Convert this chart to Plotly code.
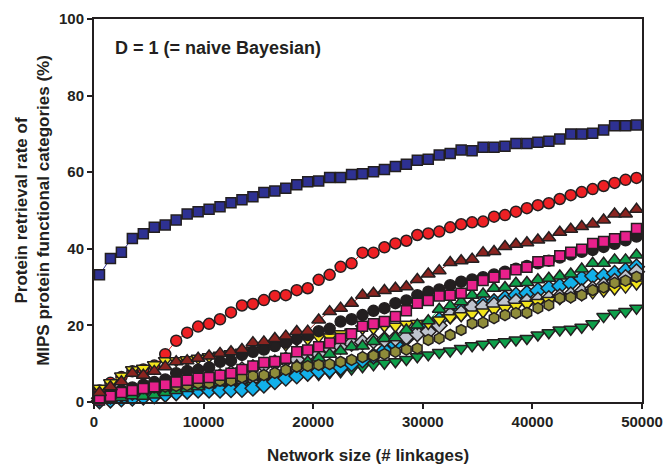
import plotly.graph_objects as go

# Network size (# linkages) sampled every 1000 linkages
network_size = list(range(500, 50000, 1000))

blue_sq = [33.2, 37.5, 39.1, 42.7, 43.9, 45.6, 46.2, 47.5, 49.1, 49.7,
           50.3, 51.0, 52.0, 52.8, 53.6, 54.7, 55.1, 55.8, 56.7, 57.5,
           57.7, 58.6, 58.6, 59.4, 59.6, 60.1, 60.7, 61.5, 62.1, 63.1,
           63.4, 64.5, 64.9, 65.8, 65.6, 66.5, 66.5, 66.8, 67.5, 67.5,
           67.8, 68.1, 68.7, 70.0, 70.0, 70.2, 71.0, 72.1, 72.1, 72.3]
red_ci = [3.0, 5.0, 6.5, 8.0, 8.5, 9.5, 12.5, 16.0, 18.1, 19.7,
          20.4, 21.6, 23.4, 25.2, 25.6, 26.6, 27.7, 27.9, 29.2, 29.7,
          31.9, 33.2, 35.3, 36.2, 39.0, 39.0, 40.4, 41.4, 42.1, 43.6,
          44.0, 44.5, 45.6, 46.4, 46.9, 47.1, 48.4, 48.8, 49.7, 50.6,
          51.4, 51.9, 53.0, 54.0, 54.8, 55.6, 56.4, 57.2, 58.0, 58.5]
brown_tri = [2.5, 4.0, 5.3, 7.5, 7.0, 8.0, 9.2, 10.5, 10.8, 11.4,
             12.0, 12.7, 13.1, 13.7, 15.5, 15.7, 16.6, 17.2, 18.4, 18.5,
             21.4, 23.6, 24.5, 25.8, 27.9, 28.4, 29.1, 29.7, 30.1, 32.0,
             33.4, 34.3, 36.4, 36.9, 37.3, 39.0, 39.3, 40.6, 41.2, 41.6,
             42.3, 42.9, 44.3, 45.1, 45.8, 46.5, 47.5, 49.1, 49.1, 50.3]
black_ci = [1.0, 2.0, 3.0, 3.8, 4.5, 5.2, 5.9, 7.5, 8.1, 8.4,
            9.0, 10.5, 10.8, 12.3, 13.1, 13.7, 14.6, 15.5, 16.5, 17.5,
            18.5, 19.1, 21.0, 21.6, 22.7, 23.8, 24.5, 25.8, 26.5, 27.9,
            28.8, 29.4, 30.5, 31.4, 32.0, 32.6, 33.3, 34.0, 34.8, 35.5,
            36.2, 36.9, 37.7, 38.5, 39.2, 39.7, 40.5, 41.3, 42.2, 43.2]
magenta_sq = [0.5, 1.5, 2.5, 3.0, 3.5, 4.0, 4.5, 5.2, 5.7, 6.2,
              6.4, 7.0, 7.5, 8.5, 9.4, 10.3, 10.6, 11.4, 13.1, 13.6,
              14.4, 15.4, 16.6, 17.8, 19.8, 20.4, 21.0, 22.3, 23.8, 25.8,
              26.5, 27.7, 27.9, 28.4, 30.5, 31.7, 32.6, 33.4, 34.5, 35.2,
              36.6, 36.9, 38.2, 39.1, 39.9, 41.4, 41.9, 42.6, 43.2, 45.3]
green_up = [0.5, 0.8, 1.2, 1.6, 1.5, 1.8, 2.5, 3.0, 3.5, 4.0,
            4.5, 5.0, 5.5, 6.0, 6.5, 7.0, 7.8, 8.5, 9.5, 10.5,
            11.5, 12.5, 13.3, 14.4, 14.6, 15.8, 16.6, 16.8, 18.8, 20.1,
            21.2, 24.2, 25.1, 26.2, 27.9, 28.2, 29.7, 29.9, 31.0, 31.2,
            31.9, 32.3, 32.9, 33.4, 34.7, 36.2, 36.2, 37.1, 37.1, 38.4]
cyan_di = [0.3, 0.5, 0.8, 1.0, 1.3, 1.6, 2.0, 2.4, 2.8, 3.1,
           3.1, 3.1, 3.2, 3.3, 3.6, 4.4, 5.3, 6.2, 6.8, 7.5,
           8.0, 8.4, 9.0, 10.0, 11.0, 12.0, 13.5, 15.0, 16.6, 18.5,
           19.8, 21.4, 22.5, 24.0, 25.0, 25.7, 26.2, 27.1, 27.9, 28.4,
           29.1, 29.7, 30.3, 31.0, 32.3, 32.9, 32.9, 33.6, 34.3, 35.3]
grey_di = [1.0, 1.5, 2.0, 2.5, 3.0, 3.5, 4.0, 4.5, 5.0, 5.5,
           6.0, 6.6, 7.5, 8.4, 9.0, 9.6, 10.2, 11.0, 11.1, 12.3,
           12.5, 14.0, 14.5, 15.3, 15.6, 16.0, 16.3, 16.6, 17.0, 17.8,
           18.4, 20.0, 22.7, 23.2, 24.8, 24.8, 25.3, 25.8, 26.2, 26.2,
           26.6, 27.0, 27.5, 28.0, 28.8, 29.5, 30.5, 31.5, 32.5, 34.0]
yellow_dn = [3.6, 5.0, 6.8, 8.4, 8.8, 9.7, 10.8, 10.8, 11.0, 11.4,
             11.8, 12.2, 12.6, 13.0, 13.5, 14.0, 14.9, 14.9, 16.2, 16.4,
             17.0, 17.0, 17.8, 18.3, 19.2, 19.2, 19.8, 19.8, 20.3, 20.5,
             20.5, 21.4, 22.0, 22.5, 23.0, 23.5, 24.0, 24.5, 25.0, 25.5,
             26.0, 26.5, 27.0, 27.5, 28.0, 28.5, 29.0, 29.5, 30.0, 30.8]
olive_hex = [1.4, 2.7, 3.1, 3.3, 3.6, 3.8, 4.0, 4.2, 4.4, 4.9,
             4.9, 5.6, 5.6, 6.4, 6.8, 7.0, 7.6, 8.4, 9.2, 9.4,
             9.7, 9.9, 10.5, 11.0, 11.7, 12.1, 12.5, 13.1, 13.7, 14.0,
             16.2, 16.6, 17.5, 18.8, 20.5, 20.7, 21.9, 22.7, 23.2, 23.3,
             24.5, 25.3, 27.1, 27.3, 27.9, 29.2, 29.9, 31.1, 31.7, 32.7]
green_dn = [0.2, 0.4, 0.8, 1.0, 1.3, 1.6, 2.0, 2.4, 2.8, 3.0,
            3.2, 3.4, 3.7, 4.0, 4.4, 5.0, 5.6, 6.2, 6.8, 7.2,
            7.2, 7.6, 7.9, 8.6, 9.2, 9.7, 10.1, 10.5, 11.1, 11.8,
            12.3, 12.9, 13.3, 14.0, 14.7, 15.1, 15.5, 15.7, 16.2, 16.6,
            17.5, 18.1, 18.8, 19.0, 19.5, 20.4, 22.3, 23.2, 23.6, 24.5]

x_ticks = [0, 10000, 20000, 30000, 40000, 50000]
y_ticks = [0, 20, 40, 60, 80, 100]

# (values, symbol, fill colour, size) drawn bottom to top
series = [
    (red_ci, "circle", "#EE2024", 11),
    (green_dn, "triangle-down", "#0E9F4A", 12),
    (cyan_di, "diamond", "#12B0EA", 12),
    (grey_di, "diamond", "#BFC4CE", 12),
    (yellow_dn, "triangle-down", "#F2E41C", 12),
    (green_up, "triangle-up", "#0E9F4A", 12),
    (olive_hex, "hexagon", "#8F8C3A", 11),
    (black_ci, "circle", "#231F20", 11),
    (magenta_sq, "square", "#E8208C", 10),
    (brown_tri, "triangle-up", "#8B2420", 12),
    (blue_sq, "square", "#2E3192", 10),
]

FONT = "Liberation Sans, Arial"
INK = "#231F20"

fig = go.Figure()
for vals, sym, col, sz in series:
    fig.add_trace(go.Scatter(
        x=network_size, y=vals, mode="lines+markers",
        line=dict(color=col, width=1),
        marker=dict(symbol=sym, size=sz, color=col,
                    line=dict(color=INK, width=1.5)),
        cliponaxis=False, showlegend=False,
    ))

axis_common = dict(
    showline=True, linecolor=INK, linewidth=2, mirror=True,
    ticks="outside", ticklen=5, tickwidth=1.5, tickcolor=INK,
    showgrid=False, zeroline=False, automargin=False,
    tickfont=dict(family=FONT, size=15, color=INK, weight="bold"),
)

fig.update_layout(
    width=665, height=465,
    margin=dict(l=94, r=23, t=19, b=63),
    paper_bgcolor="white", plot_bgcolor="white",
    font=dict(family=FONT, color=INK, weight="bold"),
    xaxis=dict(range=[0, 50000], tickvals=x_ticks, tickformat="d",
               title=dict(text="Network size (# linkages)", standoff=28,
                          font=dict(size=17, family=FONT, weight="bold", color=INK)),
               **axis_common),
    yaxis=dict(range=[0, 100], tickvals=y_ticks,
               title=dict(text="Protein retrieval rate of<br>MIPS protein functional categories (%)",
                          standoff=5,
                          font=dict(size=17, family=FONT, weight="bold", color=INK)),
               **axis_common),
    annotations=[dict(
        text="D = 1 (= naive Bayesian)", xref="paper", yref="paper",
        x=0.035, y=0.924, xanchor="left", yanchor="middle", showarrow=False,
        font=dict(size=18, family=FONT, weight="bold", color=INK),
    )],
)

fig.write_html("out.html")
